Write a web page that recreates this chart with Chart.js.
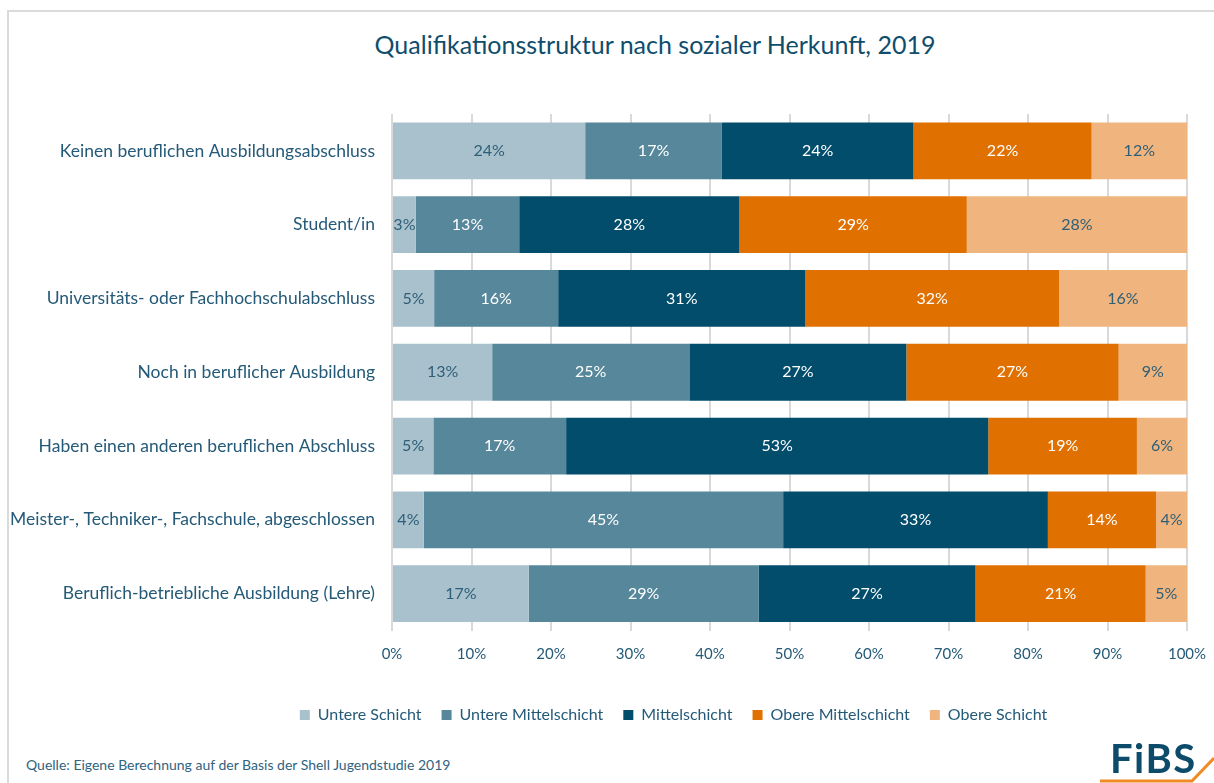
<!DOCTYPE html>
<html>
<head>
<meta charset="utf-8">
<script src="https://cdn.jsdelivr.net/npm/chart.js@4.4.0/dist/chart.umd.min.js"></script>
<style>
  html, body { margin: 0; padding: 0; background: #fff; overflow: hidden; }
  body { width: 1214px; height: 783px; position: relative; font-family: Lato, "Open Sans", sans-serif; }
  #frame { position: absolute; left: 7px; top: 10px; width: 1340px; height: 800px; border: 2px solid #dadada; }
  #title { position: absolute; left: 0; width: 1310px; top: 29px; text-align: center; font-size: 25px; color: #0f4d6c; }
  #chart { position: absolute; left: 9px; top: 12px; }
  #source { position: absolute; left: 26px; top: 756px; font-size: 14px; color: #2f6380; }
  #logo { position: absolute; left: 1110px; top: 734px; font-size: 40px; font-weight: bold; color: #0d4b6b; letter-spacing: 1.5px; }
  #swoosh { position: absolute; left: 1096px; top: 750px; }
</style>
</head>
<body>
<div id="frame"></div>
<div id="title">Qualifikationsstruktur nach sozialer Herkunft, 2019</div>
<canvas id="chart" width="1329" height="741"></canvas>
<div id="source">Quelle: Eigene Berechnung auf der Basis der Shell Jugendstudie 2019</div>
<div id="logo">FiBS</div>
<svg id="swoosh" width="118" height="33"><path d="M4 31 L96 31 L118 8" stroke="#f08a24" stroke-width="3" fill="none"/></svg>
<script>
const categories = [
  "Keinen beruflichen Ausbildungsabschluss",
  "Student/in",
  "Universitäts- oder Fachhochschulabschluss",
  "Noch in beruflicher Ausbildung",
  "Haben einen anderen beruflichen Abschluss",
  "Meister-, Techniker-, Fachschule, abgeschlossen",
  "Beruflich-betriebliche Ausbildung (Lehre)"
];
const seriesNames = ["Untere Schicht", "Untere Mittelschicht", "Mittelschicht", "Obere Mittelschicht", "Obere Schicht"];
const untereSchicht       = [24.3, 3.0, 5.3, 12.6, 5.2, 4.0, 17.2];
const untereMittelschicht = [17.2, 13.0, 15.6, 24.8, 16.7, 45.2, 28.9];
const mittelschicht       = [24.1, 27.7, 31.1, 27.3, 53.1, 33.3, 27.3];
const obereMittelschicht  = [22.4, 28.6, 31.9, 26.7, 18.7, 13.6, 21.4];
const obereSchicht        = [12.0, 27.7, 16.1, 8.6, 6.3, 3.9, 5.2];
const xTicks = [0, 10, 20, 30, 40, 50, 60, 70, 80, 90, 100];

const colors = ["#a9c1cc", "#56879b", "#034d6c", "#e07000", "#f0b47e"];
const labelColors = ["#2d5f78", "#ffffff", "#ffffff", "#ffffff", "#2d5f78"];
const txt = "#245a78";
const font = "Lato";

const series = [untereSchicht, untereMittelschicht, mittelschicht, obereMittelschicht, obereSchicht];

// writes the rounded % into the middle of each segment
const barLabels = {
  id: "barLabels",
  afterDatasetsDraw(chart) {
    const ctx = chart.ctx;
    ctx.save();
    ctx.font = "16px " + font;
    ctx.textAlign = "center";
    ctx.textBaseline = "middle";
    chart.data.datasets.forEach((ds, i) => {
      chart.getDatasetMeta(i).data.forEach((bar, j) => {
        ctx.fillStyle = labelColors[i];
        ctx.fillText(Math.round(ds.data[j]) + "%", (bar.x + bar.base) / 2, bar.y);
      });
    });
    ctx.restore();
  }
};

new Chart(document.getElementById("chart"), {
  type: "bar",
  data: {
    labels: categories,
    datasets: series.map((d, i) => ({
      label: seriesNames[i],
      data: d,
      backgroundColor: colors[i],
      borderWidth: 0,
      barPercentage: 0.77,
      categoryPercentage: 1
    }))
  },
  options: {
    indexAxis: "y",
    responsive: false,
    animation: false,
    layout: { padding: { top: 102, left: 0, right: 0, bottom: 20 } },
    scales: {
      x: {
        stacked: true,
        min: 0,
        max: 100,
        z: 1,
        afterBuildTicks: s => { s.ticks = xTicks.map(v => ({ value: v })); },
        afterFit: s => { s.height = 56.5; },
        grid: { color: "rgba(0,0,0,0.15)", lineWidth: 2, drawTicks: false },
        border: { display: false },
        ticks: { padding: 15, color: txt, font: { family: font, size: 15 }, callback: v => v + "%" }
      },
      y: {
        stacked: true,
        afterFit: s => { s.width = 383; },
        grid: { display: false, drawTicks: false },
        border: { display: false },
        ticks: { padding: 17, color: txt, font: { family: font, size: 17.5 } }
      },
      // empty right-hand spacer so the legend centres like the original
      spacer: {
        type: "category",
        axis: "y",
        position: "right",
        afterFit: s => { s.width = 151; },
        grid: { display: false },
        border: { display: false },
        ticks: { display: false }
      }
    },
    plugins: {
      legend: {
        position: "bottom",
        labels: { boxWidth: 10, boxHeight: 10, padding: 20, color: txt, font: { family: font, size: 16 } }
      },
      tooltip: { enabled: false }
    }
  },
  plugins: [barLabels]
});
</script>
</body>
</html>
